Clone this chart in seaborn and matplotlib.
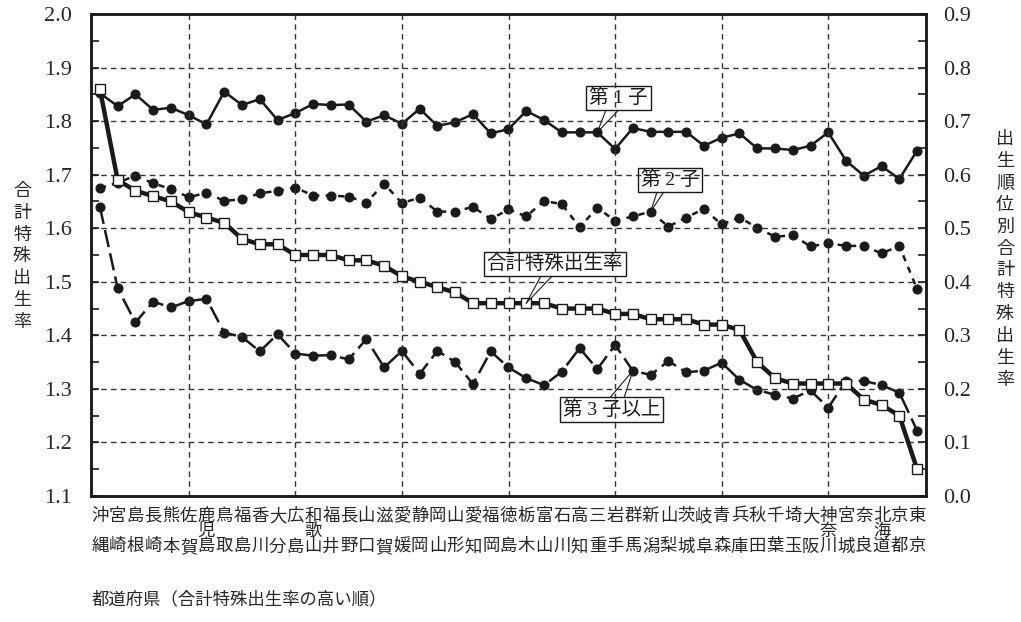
#!/usr/bin/env python3
# plot.py - total fertility rate by prefecture, with birth order breakdown

import matplotlib
matplotlib.use('Agg')
import matplotlib.pyplot as plt
import pandas as pd
import seaborn as sns
from matplotlib.ticker import MultipleLocator, FormatStrFormatter

# Data =========================================================================

prefectures = [
    '沖縄', '宮崎', '島根', '長崎', '熊本', '佐賀', '鹿児島', '鳥取', '福島',
    '香川', '大分', '広島', '和歌山', '福井', '長野', '山口', '滋賀', '愛媛',
    '静岡', '岡山', '山形', '愛知', '福岡', '徳島', '栃木', '富山', '石川',
    '高知', '三重', '岩手', '群馬', '新潟', '山梨', '茨城', '岐阜', '青森',
    '兵庫', '秋田', '千葉', '埼玉', '大阪', '神奈川', '宮城', '奈良', '北海道',
    '京都', '東京',
]

# total fertility rate (left axis)
tfr = [
    1.86, 1.69, 1.67, 1.66, 1.65, 1.63, 1.62, 1.61, 1.58, 1.57, 1.57, 1.55,
    1.55, 1.55, 1.54, 1.54, 1.53, 1.51, 1.50, 1.49, 1.48, 1.46, 1.46, 1.46,
    1.46, 1.46, 1.45, 1.45, 1.45, 1.44, 1.44, 1.43, 1.43, 1.43, 1.42, 1.42,
    1.41, 1.35, 1.32, 1.31, 1.31, 1.31, 1.31, 1.28, 1.27, 1.25, 1.15,
]

# birth order specific rates (right axis)
first_child = [
    0.752, 0.728, 0.750, 0.721, 0.725, 0.711, 0.694, 0.755, 0.730, 0.741,
    0.702, 0.715, 0.732, 0.730, 0.731, 0.699, 0.711, 0.695, 0.723, 0.691,
    0.698, 0.713, 0.677, 0.685, 0.719, 0.702, 0.679, 0.679, 0.679, 0.648,
    0.687, 0.680, 0.680, 0.680, 0.654, 0.669, 0.677, 0.649, 0.649, 0.646,
    0.654, 0.679, 0.626, 0.598, 0.616, 0.592, 0.645,
]
second_child = [
    0.575, 0.585, 0.598, 0.584, 0.573, 0.558, 0.566, 0.551, 0.554, 0.565,
    0.570, 0.576, 0.561, 0.561, 0.559, 0.548, 0.583, 0.547, 0.557, 0.531,
    0.531, 0.540, 0.517, 0.535, 0.522, 0.551, 0.545, 0.502, 0.538, 0.514,
    0.522, 0.531, 0.503, 0.520, 0.536, 0.507, 0.520, 0.501, 0.484, 0.487,
    0.466, 0.472, 0.467, 0.467, 0.453, 0.467, 0.386,
]
third_plus = [
    0.540, 0.388, 0.324, 0.363, 0.352, 0.364, 0.368, 0.305, 0.297, 0.270,
    0.302, 0.266, 0.262, 0.263, 0.255, 0.293, 0.240, 0.271, 0.228, 0.271,
    0.250, 0.209, 0.270, 0.240, 0.220, 0.207, 0.232, 0.276, 0.237, 0.282,
    0.234, 0.226, 0.252, 0.231, 0.234, 0.249, 0.217, 0.198, 0.189, 0.182,
    0.197, 0.165, 0.215, 0.215, 0.207, 0.193, 0.122,
]

grid_positions = [5, 11, 17, 23, 29, 35, 41]

INK = '#1a1a1a'

# Functions ====================================================================

def stack(name):
    # write the name top to bottom, two-character names keep an empty middle row
    if len(name) == 2:
        return name[0] + '\n\n' + name[1]
    return '\n'.join(name)


def callout(axis, label, xy, xytext, rel_a, rel_b):
    # boxed label with a two-line pointer running to the marked point
    box = dict(boxstyle='square,pad=0.15', fc='white', ec=INK, lw=1)
    for i, rel in enumerate((rel_a, rel_b)):
        axis.annotate(
            label, xy=xy, xytext=xytext, ha='center', va='center',
            fontsize=14, zorder=10,
            color=INK if i == 0 else 'none',
            bbox=box if i == 0 else dict(boxstyle='square,pad=0.15',
                                          fc='none', ec='none'),
            arrowprops=dict(arrowstyle='-', color=INK, lw=0.8, relpos=rel,
                            shrinkA=0, shrinkB=0)
        )


def main():
    sns.set_style('white')
    plt.rcParams['font.family'] = ['Liberation Serif', 'Noto Sans CJK JP']
    jp = 12.5

    df = pd.DataFrame({
        'pos': range(len(prefectures)),
        'tfr': tfr,
        'first': first_child,
        'second': second_child,
        'third': third_plus,
    })

    fig = plt.figure(figsize=(10.21, 6.22), dpi=100)
    ax = fig.add_axes([91 / 1021, 1 - 496 / 622, 835 / 1021, 482 / 622])
    ax2 = ax.twinx()

    # birth order series on the right axis
    line_kw = dict(color=INK, lw=1.8, marker='o', markersize=6.5,
                   markeredgecolor=INK, markerfacecolor=INK)
    sns.lineplot(data=df, x='pos', y='first', ax=ax2, **line_kw)
    sns.lineplot(data=df, x='pos', y='second', ax=ax2,
                 linestyle=(0, (2.5, 2.5)), **line_kw)
    sns.lineplot(data=df, x='pos', y='third', ax=ax2,
                 linestyle=(0, (7, 2.5)), **line_kw)

    # total fertility rate on the left axis
    sns.lineplot(data=df, x='pos', y='tfr', ax=ax, color=INK, lw=3.2,
                 marker='s', markersize=7.5, markerfacecolor='white',
                 markeredgecolor=INK, markeredgewidth=1)

    ax.set_zorder(ax2.get_zorder() + 1)
    ax.patch.set_visible(False)

    ax.set_xlim(-0.5, len(prefectures) - 0.5)
    ax.set_ylim(1.1, 2.0)
    ax2.set_ylim(0.0, 0.9)
    for a in (ax, ax2):
        a.yaxis.set_major_locator(MultipleLocator(0.1))
        a.yaxis.set_minor_locator(MultipleLocator(0.05))
        a.yaxis.set_major_formatter(FormatStrFormatter('%.1f'))
        a.set_xlabel('')
        a.set_ylabel('')
        for s in a.spines.values():
            s.set_linewidth(1.8)
            s.set_color(INK)

    ax.xaxis.remove_overlapping_locs = False
    ax.set_xticks(grid_positions)
    ax.set_xticklabels([])
    ax.set_xticks(range(len(prefectures)), minor=True)
    ax.set_xticklabels([stack(p) for p in prefectures], minor=True,
                       fontsize=jp, linespacing=0.95)
    ax.tick_params(axis='x', which='major', direction='in', length=7,
                   width=1.2, color=INK)
    ax.tick_params(axis='x', which='minor', length=0, pad=9)
    ax.tick_params(axis='y', which='both', direction='in', length=6,
                   width=1.2, color=INK, labelsize=16, pad=14,
                   left=True, right=False)
    ax2.tick_params(axis='y', which='both', direction='in', length=6,
                    width=1.2, color=INK, labelsize=16, pad=12,
                    left=False, right=True)

    ax.grid(True, which='major', axis='both', color='#333333', lw=1,
            ls=(0, (4, 3)))
    ax2.grid(False)

    # axis titles, written vertically
    fig.text(22 / 1021, 1 - 257 / 622, '\n'.join('合計特殊出生率'),
             ha='center', va='center', fontsize=13, linespacing=1.38)
    fig.text(1005 / 1021, 1 - 260 / 622, '\n'.join('出生順位別合計特殊出生率'),
             ha='center', va='center', fontsize=13, linespacing=1.38)
    fig.text(92 / 1021, 1 - 600 / 622, '都道府県（合計特殊出生率の高い順）',
             ha='left', va='center', fontsize=jp)

    # call-out labels
    callout(ax2, '第 1 子', (28, first_child[28]), (29.2, 0.743),
            (0.3, 0), (0.54, 0))
    callout(ax2, '第 2 子', (31, second_child[31]), (32.1, 0.590),
            (0.29, 0), (0.42, 0))
    callout(ax2, '第 3 子以上', (30, third_plus[30]), (28.8, 0.161),
            (0.46, 1), (0.62, 1))
    callout(ax, '合計特殊出生率', (24, tfr[24]), (25.6, 1.533),
            (0.41, 0), (0.5, 0))

    fig.savefig('out.png', dpi=100)


# Execute ======================================================================

if __name__ == '__main__':
    main()
